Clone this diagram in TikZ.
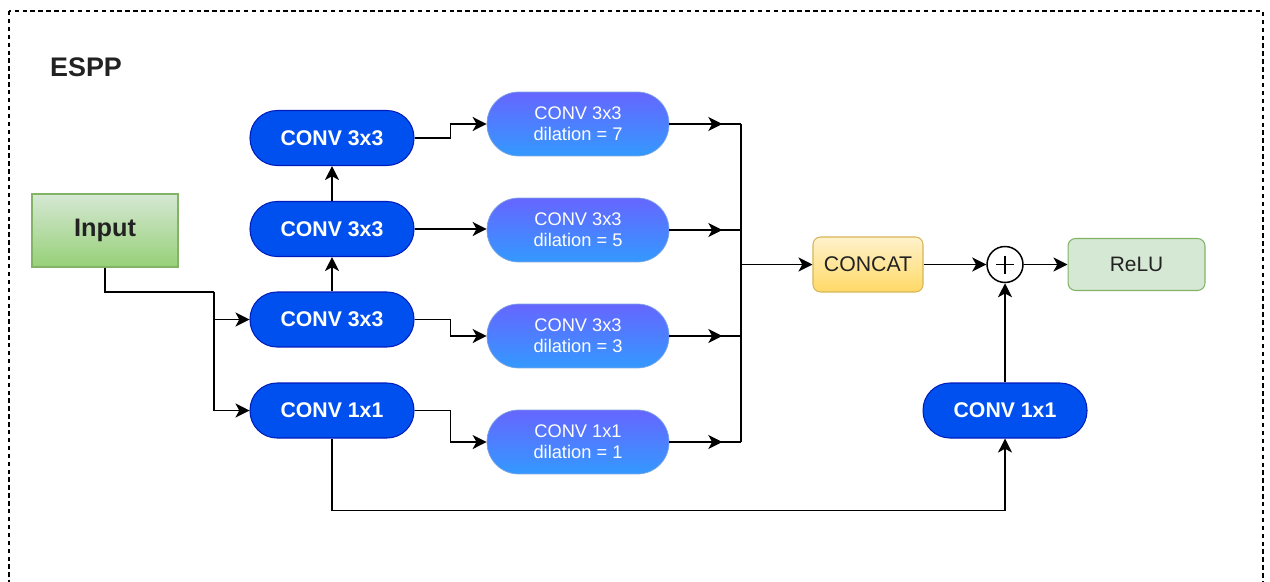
\documentclass[tikz,border=0pt]{standalone}
\usepackage{fontspec}
\setmainfont{Liberation Sans}
\usetikzlibrary{arrows.meta}
\definecolor{convblue}{HTML}{0050EF}
\definecolor{convborder}{HTML}{001DBC}
\definecolor{diltop}{HTML}{6666FF}
\definecolor{dilbot}{HTML}{3399FF}
\definecolor{dilborder}{HTML}{7EA6E0}
\definecolor{greentop}{HTML}{D5E8D4}
\definecolor{greenbot}{HTML}{97D077}
\definecolor{greenborder}{HTML}{82B366}
\definecolor{yellowtop}{HTML}{FFF2CC}
\definecolor{yellowbot}{HTML}{FFD966}
\definecolor{yellowborder}{HTML}{D6B656}
\definecolor{darktext}{HTML}{222222}
\begin{document}
\begin{tikzpicture}[x=0.02cm,y=-0.02cm,
  line width=0.85pt,
  arr/.style={-{Stealth[length=8pt,width=8pt,inset=2.2pt]}},
  conv/.style={draw=convborder,line width=0.6pt,fill=convblue,text=white,minimum width=3.28cm,minimum height=1.1cm,rounded corners=0.54cm,inner sep=0pt,font=\bfseries\fontsize{12.1}{13}\selectfont},
  dil/.style={draw=dilborder,line width=0.4pt,top color=diltop,bottom color=dilbot,text=white,minimum width=3.64cm,minimum height=1.28cm,rounded corners=0.63cm,inner sep=0pt,align=center,font=\fontsize{10.4}{12}\selectfont},
  inbox/.style={draw=greenborder,line width=0.6pt,top color=greentop,bottom color=greenbot,text=darktext,minimum width=2.92cm,minimum height=1.46cm,inner sep=0pt,font=\bfseries\fontsize{14.4}{15}\selectfont},
  concatbox/.style={draw=yellowborder,line width=0.6pt,top color=yellowtop,bottom color=yellowbot,text=darktext,minimum width=2.2cm,minimum height=1.1cm,rounded corners=0.15cm,inner sep=0pt,font=\fontsize{12.1}{13}\selectfont},
  relubox/.style={draw=greenborder,line width=0.6pt,fill=greentop,text=darktext,minimum width=2.74cm,minimum height=1.04cm,rounded corners=0.15cm,inner sep=0pt,font=\fontsize{11.9}{13}\selectfont},
  plusnode/.style={draw,line width=0.85pt,circle,fill=white,minimum size=0.72cm,inner sep=0pt},
  titlestyle/.style={font=\bfseries\fontsize{15.3}{17}\selectfont,text=darktext,inner sep=0pt}
]
\useasboundingbox (0,0) rectangle (1270,581);
\begin{scope}
  \clip (0,0) rectangle (1270,581);
  \draw[line width=0.6pt,dash pattern=on 2.5pt off 2pt] (9,11) rectangle (1263,620);
\end{scope}

\node[titlestyle] (title) at (86,67) {ESPP};

\node[inbox] (in) at (105,230.5) {Input};

\node[conv] (c1) at (332,138) {CONV 3x3};
\node[conv] (c2) at (332,229) {CONV 3x3};
\node[conv] (c3) at (332,319.5) {CONV 3x3};
\node[conv] (c4) at (332,410.5) {CONV 1x1};

\node[dil] (d7) at (578,124) {CONV 3x3\\dilation = 7};
\node[dil] (d5) at (578,230) {CONV 3x3\\dilation = 5};
\node[dil] (d3) at (578,336) {CONV 3x3\\dilation = 3};
\node[dil] (d1) at (578,442) {CONV 1x1\\dilation = 1};

\node[concatbox] (concat) at (868,264.5) {CONCAT};
\node[plusnode] (plus) at (1005,264.5) {};
\draw[line width=0.9pt] (plus.center) ++(-9,0) -- ++(18,0);
\draw[line width=0.9pt] (plus.center) ++(0,-9) -- ++(0,18);
\node[relubox] (relu) at (1136.5,264.5) {ReLU};
\node[conv] (cr) at (1005,410.5) {CONV 1x1};

% input split
\coordinate (ij) at (214,292);
\draw (in.south) |- (ij);
\draw[arr] (ij) |- (c3.west);
\draw[arr] (ij) |- (c4.west);

% vertical chain
\draw[arr] (c3.north) -- (c2.south);
\draw[arr] (c2.north) -- (c1.south);

% to dilated convs
\draw[arr] (c1.east) -- ++(36,0) |- (d7.west);
\draw[arr] (c2.east) -- (d5.west |- c2.east);
\draw[arr] (c3.east) -- ++(36,0) |- (d3.west);
\draw[arr] (c4.east) -- ++(36,0) |- (d1.west);

% outputs to bus
\coordinate (bus) at (741,0);
\foreach \d in {d7,d5,d3,d1}{
  \draw[arr] (\d.east) -- ++(53,0);
  \draw (\d.east) ++(50,0) -- (\d.east -| bus);
}
\draw (d7.east -| bus) -- (d1.east -| bus);
\draw[arr] (bus |- concat.west) -- (concat.west);

% right part
\draw[arr] (concat.east) -- (plus.west);
\draw[arr] (plus.east) -- (relu.west);
\draw[arr] (cr.north) -- (plus.south);
\draw[arr] (c4.south) -- ++(0,72) -| (cr.south);
\end{tikzpicture}
\end{document}
